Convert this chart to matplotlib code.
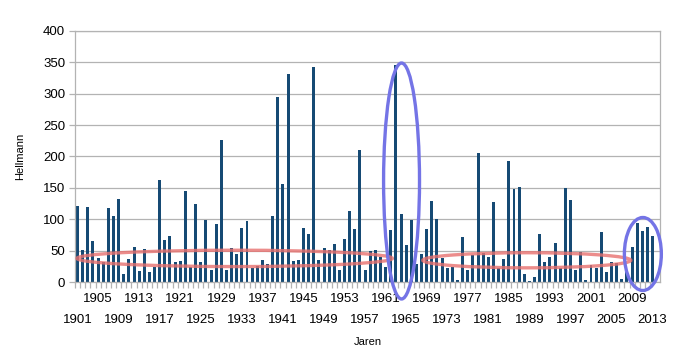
import matplotlib

matplotlib.use("Agg")
import matplotlib.pyplot as plt
from matplotlib.patches import Ellipse

plt.rcParams["font.family"] = ["Liberation Sans", "DejaVu Sans"]

# yearly Hellmann values, 1901..2013
years = list(range(1901, 2014))
hellmann = [
    121, 51, 119, 66, 39, 33, 118, 105, 132, 13,      # 1901-1910
    37, 56, 18, 53, 16, 25, 162, 67, 73, 32,          # 1911-1920
    34, 145, 25, 125, 32, 99, 20, 93, 226, 19,        # 1921-1930
    55, 45, 87, 97, 23, 26, 36, 29, 105, 294,         # 1931-1940
    157, 331, 34, 36, 86, 77, 342, 35, 54, 52,        # 1941-1950
    61, 20, 69, 113, 85, 210, 19, 49, 52, 41,         # 1951-1960
    24, 83, 345, 109, 59, 99, 29, 45, 85, 130,        # 1961-1970
    100, 39, 23, 24, 3, 72, 19, 43, 205, 46,          # 1971-1980
    40, 127, 23, 37, 193, 148, 151, 13, 2, 8,         # 1981-1990
    77, 33, 41, 63, 22, 150, 131, 19, 48, 3,          # 1991-2000
    27, 22, 80, 16, 32, 31, 5, 20, 56, 94,            # 2001-2010
    81, 88, 73,                                       # 2011-2013
]
top_row_years = list(range(1905, 2014, 8))
bottom_row_years = list(range(1901, 2014, 8))
y_ticks = list(range(0, 401, 50))

BAR = "#164a74"
GRID = "#b3b3b3"
RED = "#e8716f"
BLUE = "#7474e6"

fig = plt.figure(figsize=(6.83, 3.56), dpi=100)
ax = fig.add_axes([0.1098, 0.207, 0.857, 0.707])

ax.bar(years, hellmann, width=0.58, color=BAR, zorder=2)

ax.set_xlim(1900.5, 2014.5)
ax.set_ylim(0, 400)
ax.set_yticks(y_ticks)
ax.yaxis.grid(True, color=GRID, lw=0.9, zorder=0)
ax.set_axisbelow(True)

# category labels, staggered over two rows
ax.set_xticks(top_row_years)
ax.set_xticklabels([str(y) for y in top_row_years], fontsize=9.5)
ax.set_xticks([y + 0.5 for y in years[:-1]] + [1900.5], minor=True)
ax.tick_params(axis="x", which="major", length=0, pad=8)
ax.tick_params(axis="x", which="minor", length=4, color=GRID, width=0.9)
ax.tick_params(axis="y", length=4, color=GRID, width=0.9, labelsize=9.5, pad=3)

sec = ax.secondary_xaxis("bottom")
sec.set_xticks(bottom_row_years)
sec.set_xticklabels([str(y) for y in bottom_row_years], fontsize=9.5)
sec.tick_params(length=0, pad=23)
sec.spines["bottom"].set_visible(False)

for s in ax.spines.values():
    s.set_color(GRID)
    s.set_linewidth(0.9)

ax.set_xlabel("Jaren", fontsize=8, labelpad=23)
ax.set_ylabel("Hellmann", fontsize=8, labelpad=13)

# highlight ellipses
kw = dict(fill=False, lw=2.4, zorder=3, clip_on=False)
ax.add_patch(Ellipse((1931.6, 38), 61.4, 26, ec=RED, alpha=0.8, **kw))
ax.add_patch(Ellipse((1988.5, 35), 40.5, 24, ec=RED, alpha=0.8, **kw))
ax.add_patch(Ellipse((1964.1, 161), 7.0, 375, ec=BLUE, **kw))
ax.add_patch(Ellipse((2011.1, 45), 7.2, 116, ec=BLUE, **kw))

fig.savefig("out.png", dpi=100)
